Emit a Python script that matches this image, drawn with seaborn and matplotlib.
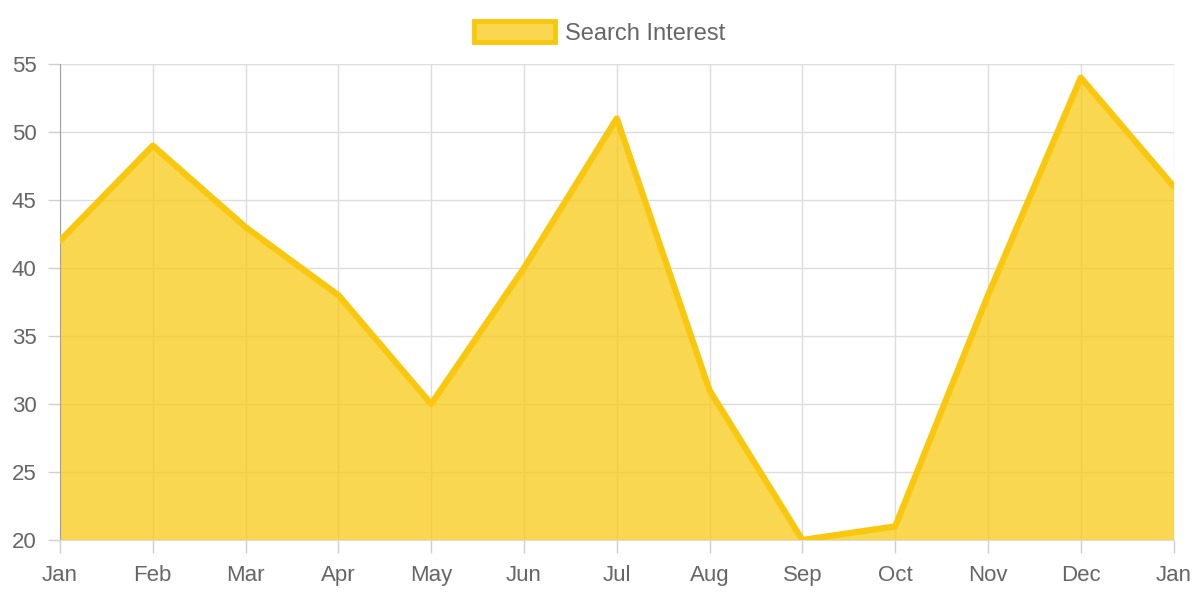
import matplotlib
matplotlib.use("Agg")
import matplotlib.pyplot as plt
import seaborn as sns
import pandas as pd
from matplotlib.patches import Patch

# --- veri ---
aylar = ["Jan", "Feb", "Mar", "Apr", "May", "Jun", "Jul", "Aug", "Sep", "Oct", "Nov", "Dec", "Jan"]
ilgi = [42, 49, 43, 38, 30, 40, 51, 31, 20, 21, 38, 54, 46]
y_ticks = [20, 25, 30, 35, 40, 45, 50, 55]

cizgi_renk = "#F9C80E"
dolgu_renk = (249 / 255, 200 / 255, 14 / 255, 0.72)
yazi_renk = "#666666"
grid_renk = "#dddddd"

sns.set_style("white")
plt.rcParams["font.family"] = ["Liberation Sans", "DejaVu Sans"]

df = pd.DataFrame({"idx": range(len(aylar)), "ay": aylar, "deger": ilgi})

fig = plt.figure(figsize=(12, 6), dpi=100)
ax = fig.add_axes([0.05, 0.1, 0.928, 0.7933])

ax.fill_between(df["idx"], df["deger"], 20, color=dolgu_renk, linewidth=0, zorder=2)
sns.lineplot(data=df, x="idx", y="deger", ax=ax, color=cizgi_renk, linewidth=4.5, zorder=3)

ax.set_xlim(0, len(aylar) - 1)
ax.set_ylim(20, 55)
ax.set_xticks(df["idx"])
ax.set_xticklabels(aylar)
ax.set_yticks(y_ticks)
ax.set_xlabel("")
ax.set_ylabel("")

ax.tick_params(axis="both", bottom=True, left=True, labelcolor=yazi_renk, labelsize=16,
               length=9, width=1, color="#d0d0d0", direction="out")
ax.tick_params(axis="x", pad=9)
ax.tick_params(axis="y", pad=8)
ax.grid(True, color=grid_renk, linewidth=1, zorder=0)
ax.set_axisbelow(True)

for s in ["top", "right"]:
    ax.spines[s].set_visible(False)
ax.spines["left"].set_color("#a0a0a0")
ax.spines["bottom"].set_color(grid_renk)

tutamac = Patch(facecolor=dolgu_renk, edgecolor=cizgi_renk, linewidth=3.5, label="Search Interest")
leg = fig.legend(handles=[tutamac], loc="upper center", bbox_to_anchor=(0.5, 1.0),
                 frameon=False, fontsize=17, handlelength=3.4, handleheight=1.0,
                 handletextpad=0.45, labelcolor=yazi_renk)

fig.savefig("out.png", dpi=100)
